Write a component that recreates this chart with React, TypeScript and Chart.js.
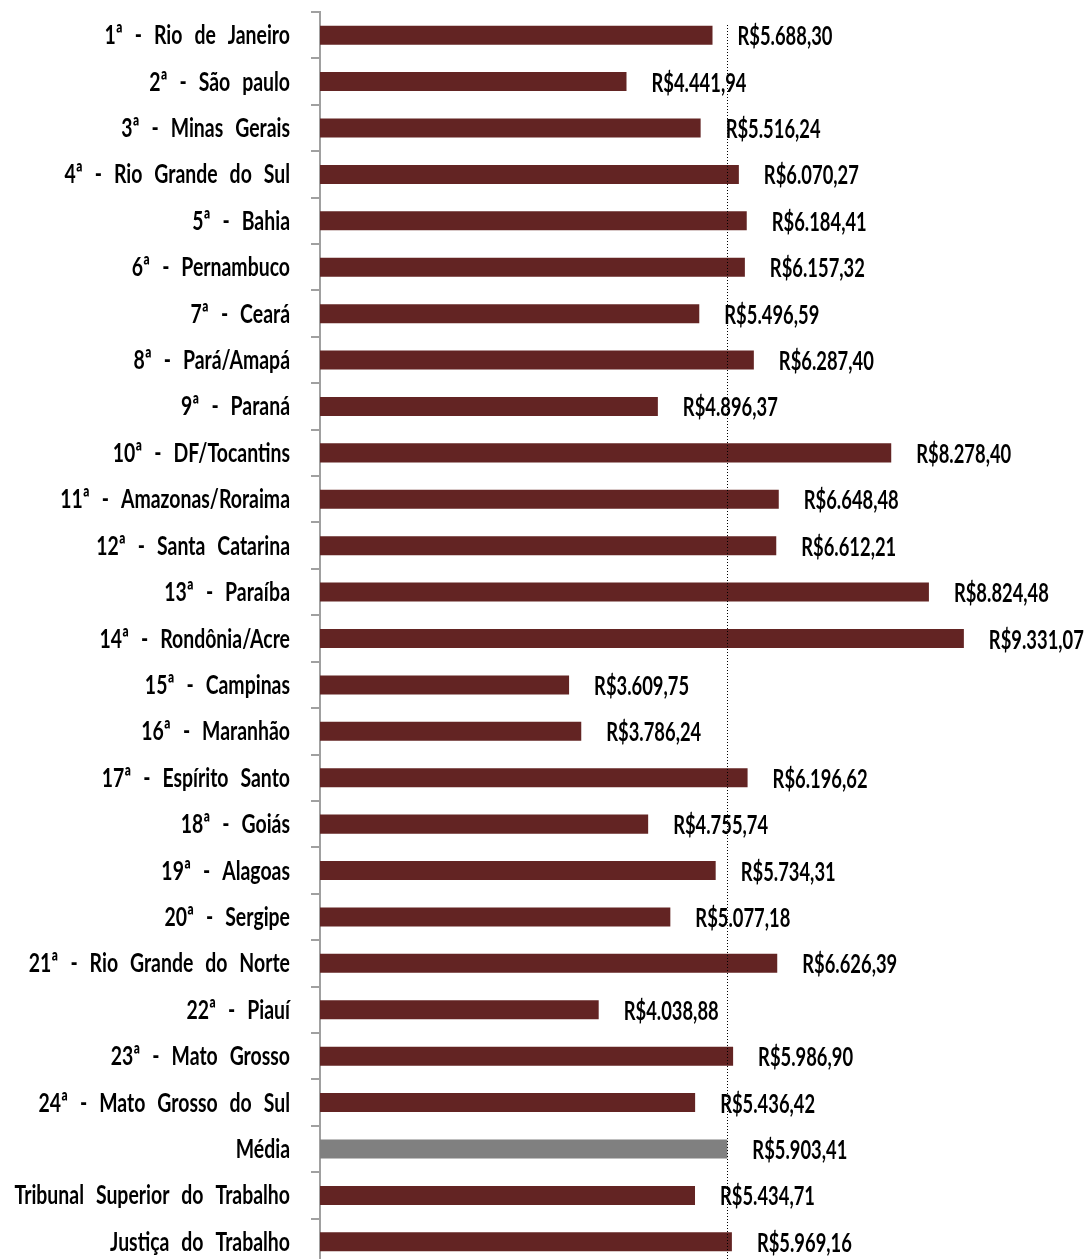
import React, { useEffect, useRef } from "react";
import { Chart, registerables } from "chart.js";

Chart.register(...registerables);

const categories = [
  "1ª - Rio de Janeiro",
  "2ª - São paulo",
  "3ª - Minas Gerais",
  "4ª - Rio Grande do Sul",
  "5ª - Bahia",
  "6ª - Pernambuco",
  "7ª - Ceará",
  "8ª - Pará/Amapá",
  "9ª - Paraná",
  "10ª - DF/Tocantins",
  "11ª - Amazonas/Roraima",
  "12ª - Santa Catarina",
  "13ª - Paraíba",
  "14ª - Rondônia/Acre",
  "15ª - Campinas",
  "16ª - Maranhão",
  "17ª - Espírito Santo",
  "18ª - Goiás",
  "19ª - Alagoas",
  "20ª - Sergipe",
  "21ª - Rio Grande do Norte",
  "22ª - Piauí",
  "23ª - Mato Grosso",
  "24ª - Mato Grosso do Sul",
  "Média",
  "Tribunal Superior do Trabalho",
  "Justiça do Trabalho",
];

const values = [
  5688.3, 4441.94, 5516.24, 6070.27, 6184.41, 6157.32, 5496.59, 6287.4,
  4896.37, 8278.4, 6648.48, 6612.21, 8824.48, 9331.07, 3609.75, 3786.24,
  6196.62, 4755.74, 5734.31, 5077.18, 6626.39, 4038.88, 5986.9, 5436.42,
  5903.41, 5434.71, 5969.16,
];

const meanValue = 5903.41;

const RED = "#632423";
const GRAY = "#808080";
const FONT = "Lato, 'Open Sans', sans-serif";
const VALUE_SCALE_X = 0.68;
const CAT_SCALE_X = 0.72;

function formatBRL(v: number): string {
  const fixed = v.toFixed(2);
  const [intPart, dec] = fixed.split(".");
  const withDots = intPart.replace(/\B(?=(\d{3})+(?!\d))/g, ".");
  return "R$" + withDots + "," + dec;
}

export default function App() {
  const ref = useRef<HTMLCanvasElement | null>(null);

  useEffect(() => {
    if (!ref.current) return;

    const textPlugin = {
      id: "condensedText",
      afterDatasetsDraw(chart: any) {
        const ctx = chart.ctx;
        const meta = chart.getDatasetMeta(0);
        ctx.save();
        ctx.font = `bold 27px ${FONT}`;
        ctx.fillStyle = "#000";
        ctx.textBaseline = "alphabetic";
        // value labels
        meta.data.forEach((bar: any, i: number) => {
          ctx.save();
          ctx.translate(bar.x + 25, bar.y + 10);
          ctx.scale(VALUE_SCALE_X, 1);
          ctx.textAlign = "left";
          (ctx as any).wordSpacing = "0px";
          ctx.fillText(formatBRL(values[i]), 0, 0);
          ctx.restore();
        });
        // category labels
        const yScale = chart.scales.y;
        categories.forEach((c, i) => {
          const y = yScale.getPixelForValue(i);
          ctx.save();
          ctx.translate(290, y + 9);
          ctx.scale(CAT_SCALE_X, 1);
          ctx.textAlign = "right";
          (ctx as any).wordSpacing = "10px";
          ctx.fillText(c, 0, 0);
          ctx.restore();
        });
        ctx.restore();
      },
    };

    const meanLinePlugin = {
      id: "meanLine",
      afterDatasetsDraw(chart: any) {
        const ctx = chart.ctx;
        const x = Math.round(chart.scales.x.getPixelForValue(meanValue)) + 0.5;
        ctx.save();
        ctx.strokeStyle = "#000";
        ctx.lineWidth = 1;
        ctx.setLineDash([1, 2]);
        ctx.beginPath();
        ctx.moveTo(x, chart.chartArea.top + 13);
        ctx.lineTo(x, chart.chartArea.bottom);
        ctx.stroke();
        ctx.restore();
      },
    };

    const chart = new Chart(ref.current, {
      type: "bar",
      data: {
        labels: categories,
        datasets: [
          {
            data: values,
            backgroundColor: categories.map((c) => (c === "Média" ? GRAY : RED)),
            borderWidth: 0,
            barPercentage: 0.41,
            categoryPercentage: 1,
          },
        ],
      },
      options: {
        indexAxis: "y",
        animation: false,
        responsive: true,
        maintainAspectRatio: false,
        layout: { padding: { top: 12, bottom: 1, left: 0, right: 0 } },
        plugins: {
          legend: { display: false },
          tooltip: { enabled: false },
        },
        scales: {
          x: {
            display: false,
            min: 0,
            max: 11130,
          },
          y: {
            afterFit(scale: any) {
              scale.width = 320;
              scale.paddingTop = 0;
              scale.paddingBottom = 0;
            },
            border: { display: true, color: "#a0a0a0", width: 2 },
            grid: {
              drawOnChartArea: false,
              drawTicks: true,
              tickLength: 9,
              color: "#a0a0a0",
              lineWidth: 2,
              offset: true,
            },
            ticks: {
              display: false,
              autoSkip: false,
            },
          },
        },
      },
      plugins: [textPlugin, meanLinePlugin],
    });

    return () => chart.destroy();
  }, []);

  return (
    <div
      style={{
        position: "fixed",
        left: 0,
        top: 0,
        width: 1088,
        height: 1259,
        overflow: "hidden",
        background: "#fff",
      }}
    >
      <div style={{ position: "relative", width: 1088, height: 1266 }}>
        <canvas ref={ref} />
      </div>
    </div>
  );
}
